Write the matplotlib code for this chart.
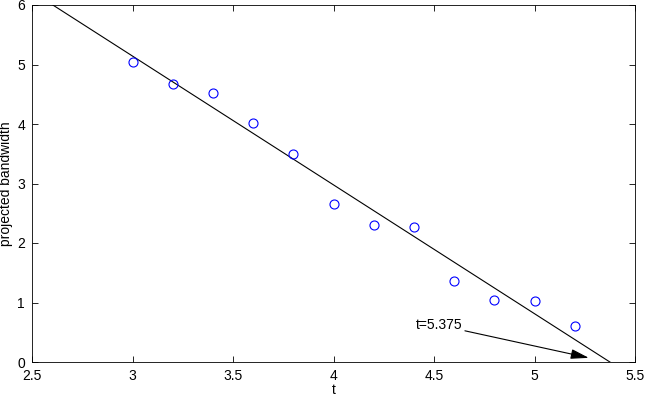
import matplotlib
matplotlib.use("Agg")
import matplotlib.pyplot as plt
import numpy as np

plt.rcParams['font.family'] = ['Liberation Sans', 'DejaVu Sans']

t_vals = [3.0, 3.2, 3.4, 3.6, 3.8, 4.0, 4.2, 4.4, 4.6, 4.8, 5.0, 5.2]
bandwidth = [5.05, 4.67, 4.52, 4.01, 3.49, 2.66, 2.30, 2.27, 1.36, 1.05, 1.03, 0.60]
fit_slope = -2.165
fit_root = 5.375
xticks = [2.5, 3, 3.5, 4, 4.5, 5, 5.5]
xticklabels = ['2.5', '3', '3.5', '4', '4.5', '5', '5.5']
yticks = [0, 1, 2, 3, 4, 5, 6]
annot_text = 't=5.375'
annot_start = (4.64, 0.62)
annot_end = (5.27, 0.07)

fig = plt.figure(figsize=(6.46, 3.96), dpi=100)
ax = fig.add_axes([32/646, 34/396, 603/646, 357/396])

tl = np.array([2.5, 5.5])
ax.plot(tl, fit_slope * (tl - fit_root), color='black', linewidth=0.8)
ax.plot(t_vals, bandwidth, 'o', markerfacecolor='none', markeredgecolor='#0000ff',
        markersize=6.5, markeredgewidth=0.8)

ax.annotate(annot_text, xy=annot_end, xytext=annot_start, ha='right', va='center',
            fontsize=10,
            arrowprops=dict(arrowstyle='-|>,head_length=1.1,head_width=0.3',
                            color='black', lw=0.8, shrinkA=0, shrinkB=0))

ax.set_xlim(2.5, 5.5)
ax.set_ylim(0, 6)
ax.set_xticks(xticks)
ax.set_xticklabels(xticklabels)
ax.set_yticks(yticks)
ax.tick_params(direction='in', top=True, right=True, labelsize=10, length=4, width=0.6, pad=5)
for s in ax.spines.values():
    s.set_linewidth(0.6)
ax.set_xlabel('t', fontsize=10, labelpad=0)
ax.set_ylabel('projected bandwidth', fontsize=10, labelpad=3)

fig.savefig('out.png', dpi=100)
